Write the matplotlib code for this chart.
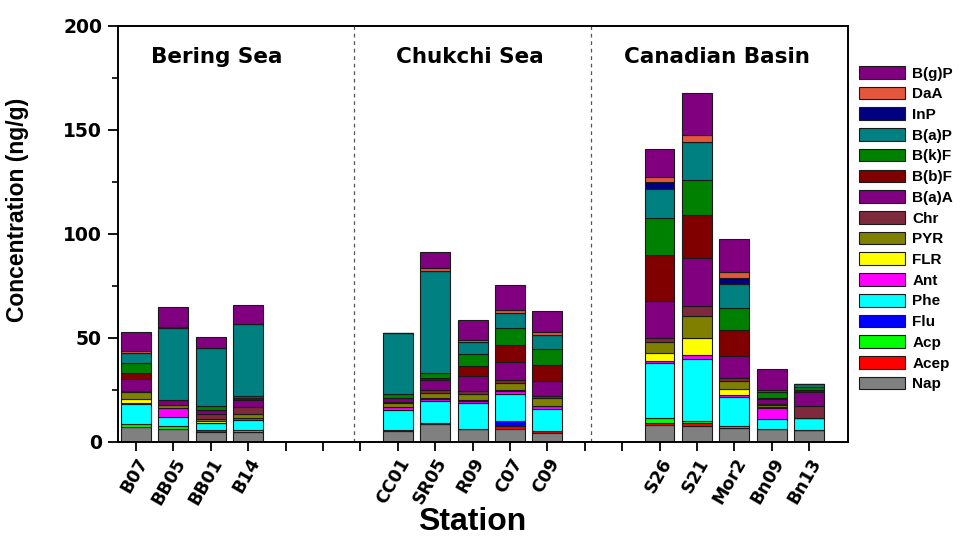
import matplotlib
matplotlib.use('Agg')
import matplotlib.pyplot as plt
from matplotlib.patches import Patch
from matplotlib.ticker import MultipleLocator
import numpy as np

# sampling stations, grouped by region
bering = ['B07', 'BB05', 'BB01', 'B14']
chukchi = ['CC01', 'SR05', 'R09', 'C07', 'C09']
canadian = ['S26', 'S21', 'Mor2', 'Bn09', 'Bn13']
regions = ['Bering Sea', 'Chukchi Sea', 'Canadian Basin']

# PAH concentrations (ng/g), one list per compound, stations in the order above
nap  = [7.2, 6.1, 4.8, 4.8,   5.0, 8.4, 5.9, 6.1, 4.2,   8.0, 7.4, 6.3, 5.9, 5.6]
acep = [0.0, 0.0, 0.6, 0.0,   0.0, 0.0, 0.3, 1.3, 1.0,   1.0, 1.3, 0.0, 0.0, 0.0]
acp  = [1.4, 1.3, 0.0, 0.8,   0.3, 0.6, 0.0, 0.0, 0.0,   2.2, 1.1, 1.4, 0.0, 0.0]
flu  = [0.0, 0.0, 0.0, 0.0,   0.0, 0.0, 0.0, 2.6, 0.0,   0.0, 0.0, 0.0, 0.0, 0.0]
phe  = [9.5, 4.2, 3.4, 4.7,   10.0, 10.4, 12.2, 13.0, 10.4,   26.7, 30.0, 13.7, 5.0, 5.9]
ant  = [0.6, 4.5, 0.0, 0.8,   1.1, 1.0, 1.3, 1.3, 1.3,   1.0, 1.6, 1.0, 5.1, 0.0]
flr  = [1.6, 0.0, 1.0, 0.4,   0.0, 0.4, 0.3, 0.3, 0.3,   3.9, 8.4, 2.7, 0.5, 0.0]
pyr  = [3.5, 1.6, 1.0, 1.5,   2.2, 2.6, 3.1, 3.5, 3.5,   5.3, 10.6, 4.0, 1.2, 0.0]
chr_ = [0.6, 0.0, 2.4, 3.5,   0.3, 1.2, 1.4, 1.6, 1.4,   1.8, 4.8, 1.6, 0.4, 5.8]
baa  = [5.5, 2.4, 1.8, 3.4,   1.9, 5.0, 6.9, 8.4, 7.2,   17.8, 23.1, 10.4, 2.2, 6.3]
bbf  = [3.0, 0.0, 0.0, 1.1,   0.3, 0.8, 5.0, 8.2, 7.4,   22.3, 20.9, 12.4, 0.8, 1.0]
bkf  = [5.0, 0.0, 1.9, 1.0,   1.8, 2.6, 5.9, 8.4, 7.7,   17.7, 16.7, 10.8, 2.6, 1.6]
bap  = [4.5, 34.7, 28.0, 34.4,   29.4, 49.3, 5.5, 7.2, 6.7,   14.0, 18.5, 11.7, 1.0, 1.3]
inp  = [0.0, 0.5, 0.0, 0.0,   0.0, 0.0, 0.0, 0.0, 0.0,   3.1, 0.0, 2.9, 0.0, 0.0]
daa  = [1.3, 0.0, 0.0, 0.0,   0.0, 1.0, 1.0, 1.5, 1.8,   2.7, 3.0, 2.7, 0.0, 0.0]
bgp  = [9.0, 9.3, 5.3, 9.3,   0.0, 7.9, 9.5, 11.9, 10.0,   13.3, 20.2, 15.7, 10.0, 0.0]

compounds = ['Nap', 'Acep', 'Acp', 'Flu', 'Phe', 'Ant', 'FLR', 'PYR', 'Chr',
             'B(a)A', 'B(b)F', 'B(k)F', 'B(a)P', 'InP', 'DaA', 'B(g)P']
series = [nap, acep, acp, flu, phe, ant, flr, pyr, chr_, baa, bbf, bkf, bap, inp, daa, bgp]
colors = ['#808080', '#ff0000', '#00ff00', '#0000ff', '#00ffff', '#ff00ff', '#ffff00',
          '#808000', '#7d2a3c', '#800080', '#800000', '#008000', '#008080', '#000080',
          '#e5573d', '#800080']

# slot layout: empty slots between the regions
groups = [bering, chukchi, canadian]
gaps = [3, 2]
pos = []
slot = 0
for gi, g in enumerate(groups):
    for s in g:
        pos.append(slot)
        slot += 1
    if gi < len(gaps):
        slot += gaps[gi]
pos = np.array(pos)
stations = bering + chukchi + canadian
nslots = slot

fig = plt.figure(figsize=(9.64, 5.36), dpi=100)
ax = fig.add_axes([0.1224, 0.1763, 0.7573, 0.7752])

bottom = np.zeros(len(stations))
for name, vals, c in zip(compounds, series, colors):
    vals = np.array(vals)
    ax.bar(pos, vals, width=0.8, bottom=bottom, color=c,
           edgecolor='#1a1a1a', linewidth=0.8, zorder=2)
    bottom += vals

# region dividers
for xd in [5.83, 12.17]:
    ax.axvline(xd, color='#555555', linestyle=(0, (3, 3)), linewidth=0.9, zorder=1)

centers = [2.17, 8.93, 15.53]
for xc, name in zip(centers, regions):
    ax.text(xc, 185.3, name, ha='center', va='center', fontsize=15.5,
            fontweight='bold', family='DejaVu Sans')

ax.set_xlim(-0.48, 19.04)
ax.set_ylim(0, 200)
ticks = np.arange(nslots)
labels = [''] * nslots
for p, s in zip(pos, stations):
    labels[p] = s
ax.set_xticks(ticks)
ax.set_xticklabels(labels, rotation=60, ha='right', rotation_mode='anchor',
                   fontsize=12.5, fontweight='bold', family='DejaVu Sans')
ax.set_yticks([0, 50, 100, 150, 200])
ax.yaxis.set_minor_locator(MultipleLocator(25))
for lab in ax.get_yticklabels():
    lab.set_fontsize(13.5)
    lab.set_fontweight('bold')
    lab.set_family('DejaVu Sans')

ax.tick_params(axis='x', direction='out', length=6.5, width=1.3, pad=3)
ax.tick_params(axis='y', which='major', direction='out', length=7.5, width=1.3, pad=4)
ax.tick_params(axis='y', which='minor', direction='out', length=4, width=1.2)
for sp in ax.spines.values():
    sp.set_linewidth(1.4)

ax.set_xlabel('Station', fontsize=23, fontweight='bold', family='Liberation Sans')
ax.xaxis.set_label_coords(0.485, -0.158)
ax.set_ylabel('Concentration (ng/g)', fontsize=16.5, fontweight='bold', family='Liberation Sans')
ax.yaxis.set_label_coords(-0.122, 0.557)

handles = [Patch(facecolor=c, edgecolor='#1a1a1a', linewidth=0.8, label=n)
           for n, c in zip(compounds, colors)][::-1]
fig.legend(handles=handles, loc='upper left', bbox_to_anchor=(0.891, 0.877),
           frameon=False, borderpad=0, borderaxespad=0,
           prop={'family': 'Liberation Sans', 'weight': 'bold', 'size': 11},
           handlelength=3.0, handleheight=0.9, labelspacing=0.4, handletextpad=0.5)

fig.savefig('out.png', dpi=100)
